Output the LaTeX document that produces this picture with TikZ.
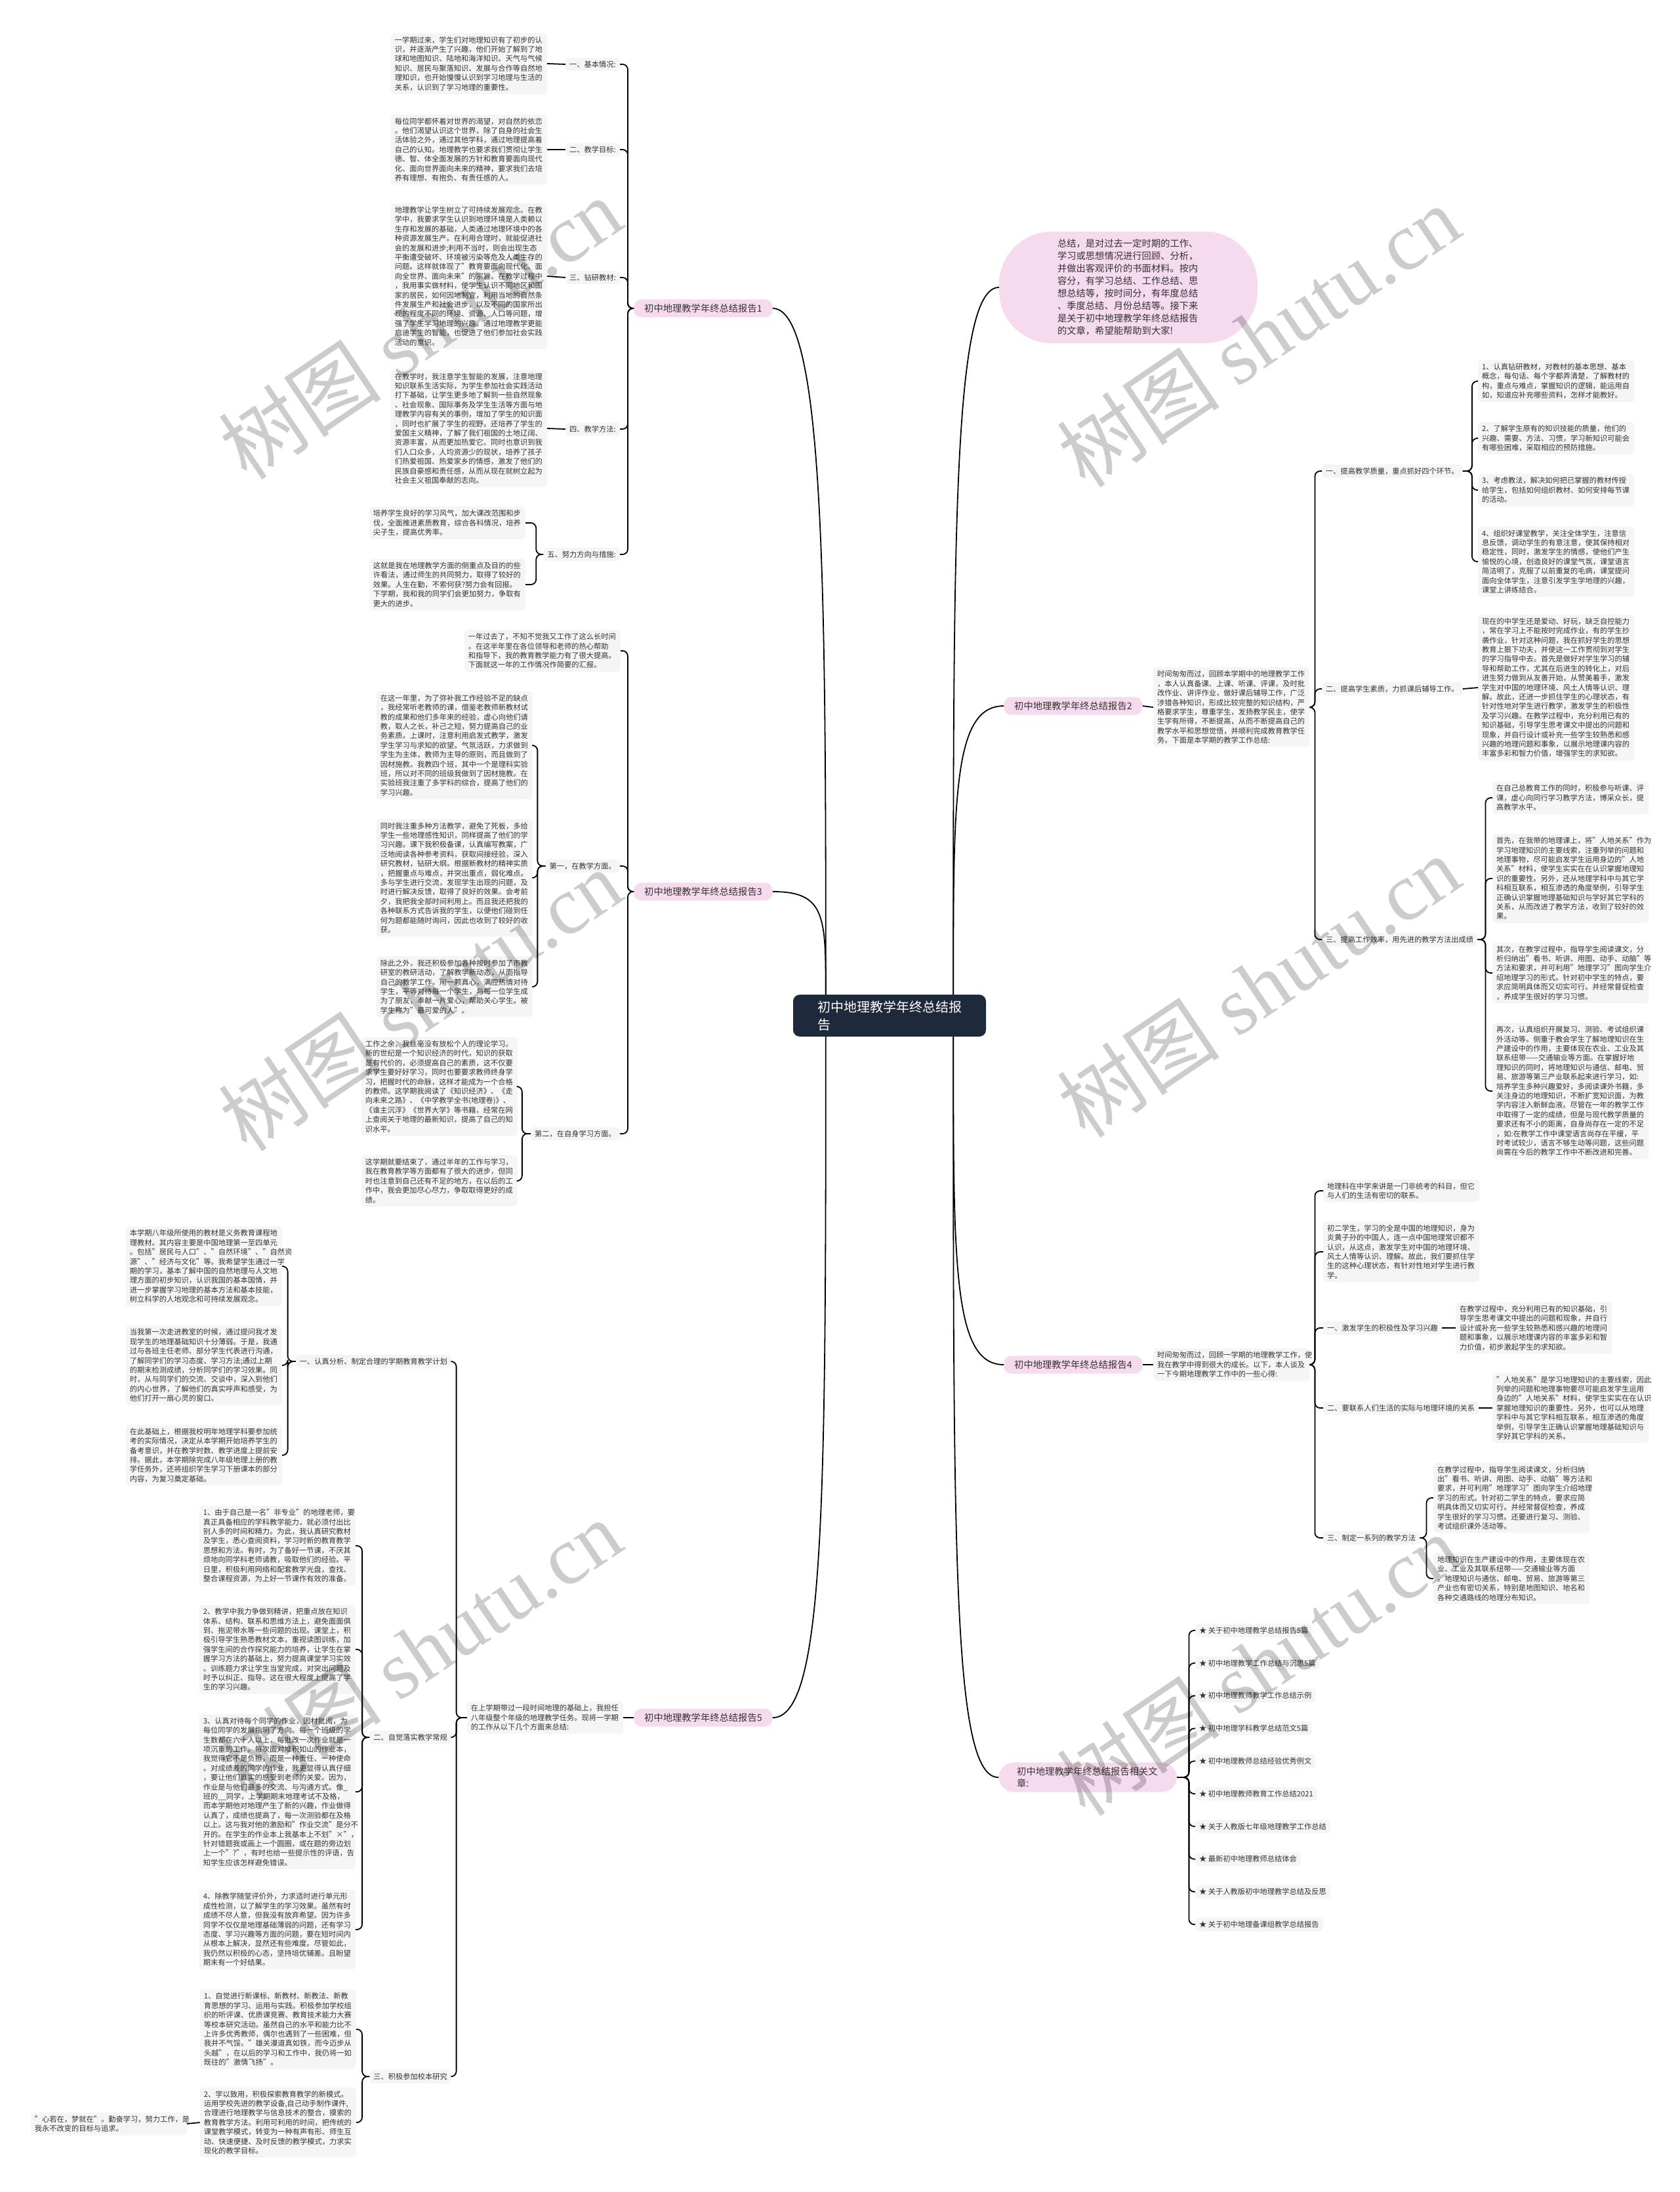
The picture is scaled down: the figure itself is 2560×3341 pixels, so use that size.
\documentclass[tikz,border=0pt]{standalone}
\usepackage{fontspec}
\setmainfont{Noto Sans CJK SC}
\newfontfamily\wmfont{Liberation Serif}
\usetikzlibrary{calc}
\definecolor{boxgray}{HTML}{F5F5F5}
\definecolor{ink}{HTML}{333333}
\definecolor{topicpink}{HTML}{F6DAEE}
\definecolor{rootnavy}{HTML}{1E2A3B}

\begin{document}
\begin{tikzpicture}[x=1pt,y=-1pt,
		txt/.style={fill=boxgray,text=ink,rounded corners=5pt,inner xsep=6pt,inner ysep=5pt,text width=226pt,align=left,font=\fontsize{11.25}{14.4}\selectfont},
		lbl/.style={fill=boxgray,text=ink,rounded corners=5pt,inner xsep=6pt,inner ysep=5pt,font=\fontsize{11.25}{14.4}\selectfont},
		topic/.style={fill=topicpink,text=ink,rounded corners=12pt,inner xsep=16pt,inner ysep=7pt,font=\fontsize{14.3}{18}\selectfont},
		rootbox/.style={fill=rootnavy,text=white,rounded corners=10pt,inner xsep=37pt,inner ysep=9pt,text width=220pt,align=left,font=\fontsize{20}{27}\selectfont},
		conn/.style={draw=black,line width=1.8pt,rounded corners=8pt},
		wm/.style={text=black,opacity=0.2,rotate=34,font=\fontsize{125}{125}\selectfont}]
			\fill[white] (0,0) rectangle (2560,3341);
			\useasboundingbox (0,0) rectangle (2560,3341);

			\node[rootbox] (ctr) at (1356,1548) {初中地理教学年终总结报\\告};

			\node[fill=topicpink,text=ink,rounded corners=80pt,minimum width=394pt,minimum height=170pt,text width=216pt,align=left,font=\fontsize{14.3}{19}\selectfont] (intro) at (1720,438) {总结，是对过去一定时期的工作、\\学习或思想情况进行回顾、分析，\\并做出客观评价的书面材料。按内\\容分，有学习总结、工作总结、思\\想总结等，按时间分，有年度总结\\、季度总结、月份总结等。接下来\\是关于初中地理教学年终总结报告\\的文章，希望能帮助到大家!};

			\node[topic,anchor=west] (b1) at (966,470) {初中地理教学年终总结报告1};
			\node[topic,anchor=west] (b3) at (966,1359) {初中地理教学年终总结报告3};
			\node[topic,anchor=west] (b5) at (966,2618) {初中地理教学年终总结报告5};
			\node[topic,anchor=west] (b2) at (1530,1076) {初中地理教学年终总结报告2};
			\node[topic,anchor=west] (b4) at (1530,2080) {初中地理教学年终总结报告4};
			\node[topic,anchor=west,inner xsep=28pt,rounded corners=24pt,text width=216pt,align=left] (b6) at (1522,2709) {初中地理教学年终总结报告相关文\\章:};

			\draw[conn] ([xshift=50pt]ctr.north west) .. controls +(0,-600) and +(80,0) .. (b1.east);
			\draw[conn] ([xshift=50pt]ctr.north west) .. controls +(0,-120) and +(80,0) .. (b3.east);
			\draw[conn] ([xshift=50pt]ctr.south west) .. controls +(0,700) and +(80,0) .. (b5.east);
			\draw[conn] ([xshift=-50pt]ctr.north east) .. controls +(0,-700) and +(-70,0) .. (intro.west);
			\draw[conn] ([xshift=-50pt]ctr.north east) .. controls +(0,-300) and +(-77,0) .. (b2.west);
			\draw[conn] ([xshift=-50pt]ctr.south east) .. controls +(0,350) and +(-77,0) .. (b4.west);
			\draw[conn] ([xshift=-50pt]ctr.south east) .. controls +(0,800) and +(-69,0) .. (b6.west);

			\node[lbl,anchor=east] (l11) at (945,98) {一、基本情况:};
			\node[lbl,anchor=east] (l12) at (945,228) {二、教学目标:};
			\node[lbl,anchor=east] (l13) at (945,423) {三、钻研教材:};
			\node[lbl,anchor=east] (l14) at (945,654) {四、教学方法:};
			\node[lbl,anchor=east] (l15) at (945,845) {五、努力方向与措施:};
			\node[txt,anchor=east] (t11) at (834,97) {一学期过来，学生们对地理知识有了初步的认\\识，并逐渐产生了兴趣，他们开始了解到了地\\球和地图知识、陆地和海洋知识、天气与气候\\知识、居民与聚落知识、发展与合作等自然地\\理知识，也开始慢慢认识到学习地理与生活的\\关系，认识到了学习地理的重要性。};
			\node[txt,anchor=east] (t12) at (834,228) {每位同学都怀着对世界的渴望，对自然的依恋\\。他们渴望认识这个世界，除了自身的社会生\\活体验之外，通过其他学科，通过地理提高着\\自己的认知。地理教学也要求我们贯彻让学生\\德、智、体全面发展的方针和教育要面向现代\\化、面向世界面向未来的精神，要求我们去培\\养有理想、有抱负、有责任感的人。};
			\node[txt,anchor=east] (t13) at (834,421) {地理教学让学生树立了可持续发展观念。在教\\学中，我要求学生认识到地理环境是人类赖以\\生存和发展的基础，人类通过地理环境中的各\\种资源发展生产。在利用合理时，就能促进社\\会的发展和进步;利用不当时，则会出现生态\\平衡遭受破坏、环境被污染等危及人类生存的\\问题。这样就体现了"教育要面向现代化、面\\向全世界、面向未来"的宗旨。在教学过程中\\，我用事实做材料，使学生认识不同地区和国\\家的居民，如何因地制宜，利用当地的自然条\\件发展生产和社会进步，以及不同的国家所出\\现的程度不同的环境、资源、人口等问题，增\\强了学生学习地理的兴趣。通过地理教学更能\\启迪学生的智能，也促进了他们参加社会实践\\活动的意识。};
			\node[txt,anchor=east] (t14) at (834,653) {在教学时，我注意学生智能的发展，注意地理\\知识联系生活实际，为学生参加社会实践活动\\打下基础，让学生更多地了解到一些自然现象\\、社会现象、国际事务及学生生活等方面与地\\理教学内容有关的事例，增加了学生的知识面\\，同时也扩展了学生的视野。还培养了学生的\\爱国主义精神，了解了我们祖国的土地辽阔、\\资源丰富，从而更加热爱它。同时也意识到我\\们人口众多，人均资源少的现状，培养了孩子\\们热爱祖国、热爱家乡的情感，激发了他们的\\民族自豪感和责任感，从而从现在就树立起为\\社会主义祖国奉献的志向。};
			\node[txt,anchor=east] (t15a) at (801,797) {培养学生良好的学习风气，加大课改范围和步\\伐，全面推进素质教育，综合各科情况，培养\\尖子生，提高优秀率。};
			\node[txt,anchor=east] (t15b) at (801,891) {这就是我在地理教学方面的侧重点及目的的些\\许看法，通过师生的共同努力，取得了较好的\\效果。人生在勤，不索何获?努力会有回报。\\下学期，我和我的同学们会更加努力，争取有\\更大的进步。};
			\foreach \n in {l11,l12,l13,l14,l15}
				\draw[conn] (b1.west) -- ++(-9,0) |- (\n.east);
			\draw[conn] (l11.west) -- (t11.east);
			\draw[conn] (l12.west) -- (t12.east);
			\draw[conn] (l13.west) -- (t13.east);
			\draw[conn] (l14.west) -- (t14.east);
			\draw[conn] (l15.west) -- ++(-11,0) |- (t15a.east);
			\draw[conn] (l15.west) -- ++(-11,0) |- (t15b.east);

			\node[txt,anchor=east] (t30) at (946,992) {一年过去了，不知不觉我又工作了这么长时间\\。在这半年里在各位领导和老师的热心帮助\\和指导下，我的教育教学能力有了很大提高。\\下面就这一年的工作情况作简要的汇报。};
			\node[lbl,anchor=east] (l31) at (945,1320) {第一，在教学方面。};
			\node[lbl,anchor=east] (l32) at (945,1728) {第二，在自身学习方面。};
			\node[txt,anchor=east] (t31a) at (812,1136) {在这一年里，为了弥补我工作经验不足的缺点\\，我经常听老教师的课，借鉴老教师新教材试\\教的成果和他们多年来的经验，虚心向他们请\\教，取人之长，补己之短，努力提高自己的业\\务素质。上课时，注意利用启发式教学，激发\\学生学习与求知的欲望。气氛活跃，力求做到\\学生为主体，教师为主导的原则，而且做到了\\因材施教。我教四个班，其中一个是理科实验\\班，所以对不同的班级我做到了因材施教。在\\实验班我注重了多学科的综合，提高了他们的\\学习兴趣。};
			\node[txt,anchor=east] (t31b) at (812,1338) {同时我注重多种方法教学，避免了死板，多给\\学生一些地理感性知识，同样提高了他们的学\\习兴趣。课下我积极备课，认真编写教案，广\\泛地阅读各种参考资料，获取间接经验，深入\\研究教材，钻研大纲。根据新教材的精神实质\\，把握重点与难点，并突出重点，弱化难点。\\多与学生进行交流，发现学生出现的问题，及\\时进行解决反馈，取得了良好的效果。会考前\\夕，我把我全部时间利用上。而且我还把我的\\各种联系方式告诉我的学生，以便他们碰到任\\何为题都能随时询问，因此也收到了较好的收\\获。};
			\node[txt,anchor=east] (t31c) at (812,1504) {除此之外，我还积极参加各种按时参加了市教\\研室的教研活动，了解教学新动态，从而指导\\自己的教学工作。用一颗真心，满腔热情对待\\学生，平等对待每一个学生，与每一位学生成\\为了朋友，奉献一片爱心，帮助关心学生。被\\学生称为"最可爱的人"。};
			\node[txt,anchor=east] (t32a) at (789,1656) {工作之余，我丝毫没有放松个人的理论学习。\\新的世纪是一个知识经济的时代，知识的获取\\是有代价的，必须提高自己的素质，这不仅要\\求学生要好好学习，同时也要要求教师终身学\\习，把握时代的命脉，这样才能成为一个合格\\的教师。这学期我阅读了《知识经济》、《走\\向未来之路》、《中学教学全书(地理卷)》、\\《谁主沉浮》《世界大学》等书籍，经常在网\\上查阅关于地理的最新知识，提高了自己的知\\识水平。};
			\node[txt,anchor=east] (t32b) at (789,1800) {这学期就要结束了，通过半年的工作与学习，\\我在教育教学等方面都有了很大的进步，但同\\时也注意到自己还有不足的地方，在以后的工\\作中，我会更加尽心尽力，争取取得更好的成\\绩。};
			\foreach \n in {t30,l31,l32}
				\draw[conn] (b3.west) -- ++(-9,0) |- (\n.east);
			\foreach \n in {t31a,t31b,t31c}
				\draw[conn] (l31.west) -- ++(-12,0) |- (\n.east);
			\foreach \n in {t32a,t32b}
				\draw[conn] (l32.west) -- ++(-13,0) |- (\n.east);

			\node[txt,anchor=east] (t50) at (950,2618) {在上学期带过一段时间地理的基础上，我担任\\八年级整个年级的地理教学任务。现将一学期\\的工作从以下几个方面来总结:};
			\node[lbl,anchor=east] (l51) at (688,2075) {一、认真分析、制定合理的学期教育教学计划};
			\node[lbl,anchor=east] (l52) at (688,2648) {二、自觉落实教学常规};
			\node[lbl,anchor=east] (l53) at (688,3165) {三、积极参加校本研究};
			\node[txt,anchor=east] (t51a) at (430,1930) {本学期八年级所使用的教材是义务教育课程地\\理教材。其内容主要是中国地理第一至四单元\\。包括"居民与人口"、"自然环境"、"自然资\\源"、"经济与文化"等。我希望学生通过一学\\期的学习，基本了解中国的自然地理与人文地\\理方面的初步知识，认识我国的基本国情，并\\进一步掌握学习地理的基本方法和基本技能，\\树立科学的人地观念和可持续发展观念。};
			\node[txt,anchor=east] (t51b) at (430,2081) {当我第一次走进教室的时候，通过提问我才发\\现学生的地理基础知识十分薄弱。于是，我通\\过与各班主任老师、部分学生代表进行沟通，\\了解同学们的学习态度、学习方法;通过上期\\的期末检测成绩，分析同学们的学习效果。同\\时，从与同学们的交流、交谈中，深入到他们\\的内心世界，了解他们的真实呼声和感受，为\\他们打开一扇心灵的窗口。};
			\node[txt,anchor=east] (t51c) at (430,2218) {在此基础上，根据我校明年地理学科要参加统\\考的实际情况，决定从本学期开始培养学生的\\备考意识，并在教学时数、教学进度上提前安\\排。据此，本学期除完成八年级地理上册的教\\学任务外，还将组织学生学习下册课本的部分\\内容，为复习奠定基础。};
			\node[txt,anchor=east] (t52a) at (542,2356) {1、由于自己是一名"非专业"的地理老师，要\\真正具备相应的学科教学能力，就必须付出比\\别人多的时间和精力。为此，我认真研究教材\\及学生，悉心查阅资料，学习时新的教育教学\\思想和方法。有时，为了备好一节课，不厌其\\烦地向同学科老师请教，吸取他们的经验。平\\日里，积极利用网络和配套教学光盘，查找、\\整合课程资源，为上好一节课作有效的准备。};
			\node[txt,anchor=east] (t52b) at (542,2514) {2、教学中我力争做到精讲，把重点放在知识\\体系、结构、联系和思维方法上，避免面面俱\\到、拖泥带水等一些问题的出现。课堂上，积\\极引导学生熟悉教材文本，重视读图训练，加\\强学生间的合作探究能力的培养，让学生在掌\\握学习方法的基础上，努力提高课堂学习实效\\。训练题力求让学生当堂完成，对突出问题及\\时予以纠正、指导。这在很大程度上提高了学\\生的学习兴趣。};
			\node[txt,anchor=east] (t52c) at (542,2731) {3、认真对待每个同学的作业，因材批阅，为\\每位同学的发展指明了方向。每一个班级的学\\生数都在六十人以上，每批改一次作业就是一\\项沉重的工作。每次面对堆积如山的作业本，\\我觉得它不是负担，而是一种责任、一种使命\\。对成绩差的同学的作业，我更显得认真仔细\\，要让他们真实的感受到老师的关爱。因为，\\作业是与他们最多的交流、与沟通方式。像\_\\班的\_\_同学，上学期期末地理考试不及格，\\而本学期他对地理产生了新的兴趣，作业做得\\认真了，成绩也提高了，每一次测验都在及格\\以上。这与我对他的激励和"作业交流"是分不\\开的。在学生的作业本上我基本上不划"×"，\\针对错题我或画上一个圆圈，或在题的旁边划\\上一个"?"，有时也给一些提示性的评语，告\\知学生应该怎样避免错误。};
			\node[txt,anchor=east] (t52d) at (542,2941) {4、除教学随堂评价外，力求适时进行单元形\\成性检测，以了解学生的学习效果。虽然有时\\成绩不尽人意，但我没有放弃希望。因为许多\\同学不仅仅是地理基础薄弱的问题，还有学习\\态度、学习兴趣等方面的问题，要在短时间内\\从根本上解决，显然还有些难度。尽管如此，\\我仍然以积极的心态，坚持培优辅差。且盼望\\期末有一个好结果。};
			\node[txt,anchor=east] (t53a) at (543,3093) {1、自觉进行新课标、新教材、新教法、新教\\育思想的学习、运用与实践。积极参加学校组\\织的听评课、优质课竞赛、教育技术能力大赛\\等校本研究活动。虽然自己的水平和能力比不\\上许多优秀教师，偶尔也遇到了一些困难，但\\我并不气馁。"雄关漫道真如铁，而今迈步从\\头越"，在以后的学习和工作中，我仍将一如\\既往的"激情飞扬"。};
			\node[txt,anchor=east] (t53b) at (543,3235) {2、学以致用，积极探索教育教学的新模式。\\运用学校先进的教学设备,自己动手制作课件,\\合理进行地理教学与信息技术的整合，摸索的\\教育教学方法。利用可利用的时间，把传统的\\课堂教学模式，转变为一种有声有形、师生互\\动、快速便捷、及时反馈的教学模式，力求实\\现化的教学目标。};
			\node[txt,anchor=east] (t53c) at (285,3237) {"心若在，梦就在"。勤奋学习，努力工作，是\\我永不改变的目标与追求。};
			\draw[conn] (b5.west) -- (t50.east);
			\foreach \n in {l51,l52,l53}
				\draw[conn] (t50.west) -- ++(-16,0) |- (\n.east);
			\foreach \n in {t51a,t51b,t51c}
				\draw[conn] (l51.west) -- ++(-12,0) |- (\n.east);
			\foreach \n in {t52a,t52b,t52c,t52d}
				\draw[conn] (l52.west) -- ++(-11,0) |- (\n.east);
			\foreach \n in {t53a,t53b}
				\draw[conn] (l53.west) -- ++(-11,0) |- (\n.east);
			\draw[conn] (t53b.west) -- (t53c.east);

			\node[txt,anchor=west] (t20) at (1758,1078) {时间匆匆而过，回顾本学期中的地理教学工作\\，本人认真备课、上课、听课、评课，及时批\\改作业、讲评作业，做好课后辅导工作，广泛\\涉猎各种知识，形成比较完整的知识结构，严\\格要求学生，尊重学生，发扬教学民主，使学\\生学有所得，不断提高，从而不断提高自己的\\教学水平和思想觉悟，并顺利完成教育教学任\\务。下面是本学期的教学工作总结:};
			\node[lbl,anchor=west] (l21) at (2015,718) {一、提高教学质量，重点抓好四个环节。};
			\node[lbl,anchor=west] (l22) at (2015,1050) {二、提高学生素质，力抓课后辅导工作。};
			\node[lbl,anchor=west] (l23) at (2015,1432) {三、提高工作效率，用先进的教学方法出成绩};
			\node[txt,anchor=west] (t21a) at (2253,581) {1、认真钻研教材，对教材的基本思想、基本\\概念，每句话、每个字都弄清楚，了解教材的\\构，重点与难点，掌握知识的逻辑，能运用自\\如，知道应补充哪些资料，怎样才能教好。};
			\node[txt,anchor=west] (t21b) at (2253,668) {2、了解学生原有的知识技能的质量，他们的\\兴趣、需要、方法、习惯，学习新知识可能会\\有哪些困难，采取相应的预防措施。};
			\node[txt,anchor=west] (t21c) at (2253,747) {3、考虑教法，解决如何把已掌握的教材传授\\给学生，包括如何组织教材、如何安排每节课\\的活动。};
			\node[txt,anchor=west] (t21d) at (2253,856) {4、组织好课堂教学，关注全体学生，注意信\\息反馈，调动学生的有意注意，使其保持相对\\稳定性，同时，激发学生的情感，使他们产生\\愉悦的心境，创造良好的课堂气氛，课堂语言\\简洁明了，克服了以前重复的毛病，课堂提问\\面向全体学生，注意引发学生学地理的兴趣，\\课堂上讲练结合。};
			\node[txt,anchor=west] (t22) at (2253,1048) {现在的中学生还是爱动、好玩，缺乏自控能力\\，常在学习上不能按时完成作业，有的学生抄\\袭作业，针对这种问题，我在抓好学生的思想\\教育上狠下功夫，并使这一工作贯彻到对学生\\的学习指导中去。首先是做好对学生学习的辅\\导和帮助工作，尤其在后进生的转化上，对后\\进生努力做到从友善开始，从赞美着手，激发\\学生对中国的地理环境、风土人情等认识、理\\解。故此，还进一步抓住学生的心理状态，有\\针对性地对学生进行教学，激发学生的积极性\\及学习兴趣。在教学过程中，充分利用已有的\\知识基础，引导学生思考课文中提出的问题和\\现象，并自行设计或补充一些学生较熟悉和感\\兴趣的地理问题和事象，以展示地理课内容的\\丰富多彩和智力价值，增强学生的求知欲。};
			\node[txt,anchor=west] (t23a) at (2275,1216) {在自己总教育工作的同时，积极参与听课、评\\课，虚心向同行学习教学方法，博采众长，提\\高教学水平。};
			\node[txt,anchor=west] (t23b) at (2275,1339) {首先，在我带的地理课上，将"人地关系"作为\\学习地理知识的主要线索，注重列举的问题和\\地理事物，尽可能启发学生运用身边的"人地\\关系"材料，使学生实实在在认识掌握地理知\\识的重要性。另外，还从地理学科中与其它学\\科相互联系，相互渗透的角度举例，引导学生\\正确认识掌握地理基础知识与学好其它学科的\\关系，从而改进了教学方法，收到了较好的效\\果。};
			\node[txt,anchor=west] (t23c) at (2275,1483) {其次，在教学过程中，指导学生阅读课文，分\\析归纳出"看书、听讲、用图、动手、动脑"等\\方法和要求，并可利用"地理学习"图向学生介\\绍地理学习的形式。针对初中学生的特点，要\\求应简明具体而又切实可行。并经常督促检查\\，养成学生很好的学习习惯。};
			\node[txt,anchor=west] (t23d) at (2275,1663) {再次，认真组织开展复习、测验、考试组织课\\外活动等。侧重于教会学生了解地理知识在生\\产建设中的作用，主要体现在农业、工业及其\\联系纽带——交通输业等方面。在掌握好地\\理知识的同时，将地理知识与通信、邮电、贸\\易、旅游等第三产业联系起来进行学习，如:\\培养学生多种兴趣爱好，多阅读课外书籍，多\\关注身边的地理知识，不断扩宽知识面，为教\\学内容注入新鲜血液。尽管在一年的教学工作\\中取得了一定的成绩，但是与现代教学质量的\\要求还有不小的距离，自身尚存在一定的不足\\，如:在教学工作中课堂语言尚存在平缓，平\\时考试较少，语言不够生动等问题，这些问题\\尚需在今后的教学工作中不断改进和完善。};
			\draw[conn] (b2.east) -- (t20.west);
			\foreach \n in {l21,l22,l23}
				\draw[conn] (t20.east) -- ++(8,0) |- (\n.west);
			\foreach \n in {t21a,t21b,t21c,t21d}
				\draw[conn] (l21.east) -- ++(14,0) |- (\n.west);
			\draw[conn] (l22.east) -- (t22.west);
			\foreach \n in {t23a,t23b,t23c,t23d}
				\draw[conn] (l23.east) -- ++(12,0) |- (\n.west);

			\node[txt,anchor=west] (t40) at (1758,2080) {时间匆匆而过，回顾一学期的地理教学工作，使\\我在教学中得到很大的成长。以下，本人谈及\\一下今期地理教学工作中的一些心得:};
			\node[txt,anchor=west] (t41) at (2017,1815) {地理科在中学来讲是一门非统考的科目，但它\\与人们的生活有密切的联系。};
			\node[txt,anchor=west] (t42) at (2017,1908) {初二学生，学习的全是中国的地理知识，身为\\炎黄子孙的中国人，连一点中国地理常识都不\\认识，从这点，激发学生对中国的地理环境、\\风土人情等认识、理解。故此，我们要抓住学\\生的这种心理状态，有针对性地对学生进行教\\学。};
			\node[lbl,anchor=west] (l41) at (2017,2024) {一、激发学生的积极性及学习兴趣};
			\node[lbl,anchor=west] (l42) at (2017,2146) {二、要联系人们生活的实际与地理环境的关系};
			\node[lbl,anchor=west] (l43) at (2017,2344) {三、制定一系列的教学方法};
			\node[txt,anchor=west] (t43) at (2219,2024) {在教学过程中，充分利用已有的知识基础，引\\导学生思考课文中提出的问题和现象，并自行\\设计或补充一些学生较熟悉和感兴趣的地理问\\题和事象，以展示地理课内容的丰富多彩和智\\力价值，初步激起学生的求知欲。};
			\node[txt,anchor=west] (t44) at (2275,2146) {"人地关系"是学习地理知识的主要线索，因此\\列举的问题和地理事物要尽可能启发学生运用\\身边的"人地关系"材料，使学生实实在在认识\\掌握地理知识的重要性。另外，也可以从地理\\学科中与其它学科相互联系，相互渗透的角度\\举例，引导学生正确认识掌握地理基础知识与\\学好其它学科的关系。};
			\node[txt,anchor=west] (t45) at (2185,2283) {在教学过程中，指导学生阅读课文，分析归纳\\出"看书、听讲、用图、动手、动脑"等方法和\\要求，并可利用"地理学习"图向学生介绍地理\\学习的形式。针对初二学生的特点，要求应简\\明具体而又切实可行。并经常督促检查，养成\\学生很好的学习习惯。还要进行复习、测验、\\考试组织课外活动等。};
			\node[txt,anchor=west] (t46) at (2185,2406) {地理知识在生产建设中的作用，主要体现在农\\业、工业及其联系纽带——交通输业等方面\\。地理知识与通信、邮电、贸易、旅游等第三\\产业也有密切关系，特别是地图知识、地名和\\各种交通路线的地理分布知识。};
			\draw[conn] (b4.east) -- (t40.west);
			\foreach \n in {t41,t42,l41,l42,l43}
				\draw[conn] (t40.east) -- ++(8,0) |- (\n.west);
			\draw[conn] (l41.east) -- (t43.west);
			\draw[conn] (l42.east) -- (t44.west);
			\foreach \n in {t45,t46}
				\draw[conn] (l43.east) -- ++(10,0) |- (\n.west);

			\foreach \t [count=\i from 0] in {关于初中地理教学总结报告5篇,初中地理教学工作总结与沉思5篇,初中地理教师教学工作总结示例,初中地理学科教学总结范文5篇,初中地理教师总结经验优秀例文,初中地理教师教育工作总结2021,关于人教版七年级地理教学工作总结,最新初中地理教师总结体会,关于人教版初中地理教学总结及反思,关于初中地理备课组教学总结报告}{
				\node[lbl,anchor=west] (r\i) at (1822,2485+49.8*\i) {★ \t};
				\draw[conn] (b6.east) -- ++(18,0) |- (r\i.west);
			}

			\node[wm] at (640,500) {树图 {\wmfont shutu.cn}};
			\node[wm] at (1918,512) {树图 {\wmfont shutu.cn}};
			\node[wm] at (640,1524) {树图 {\wmfont shutu.cn}};
			\node[wm] at (1918,1503) {树图 {\wmfont shutu.cn}};
			\node[wm] at (640,2515) {树图 {\wmfont shutu.cn}};
			\node[wm] at (1918,2537) {树图 {\wmfont shutu.cn}};
		\end{tikzpicture}
\end{document}
